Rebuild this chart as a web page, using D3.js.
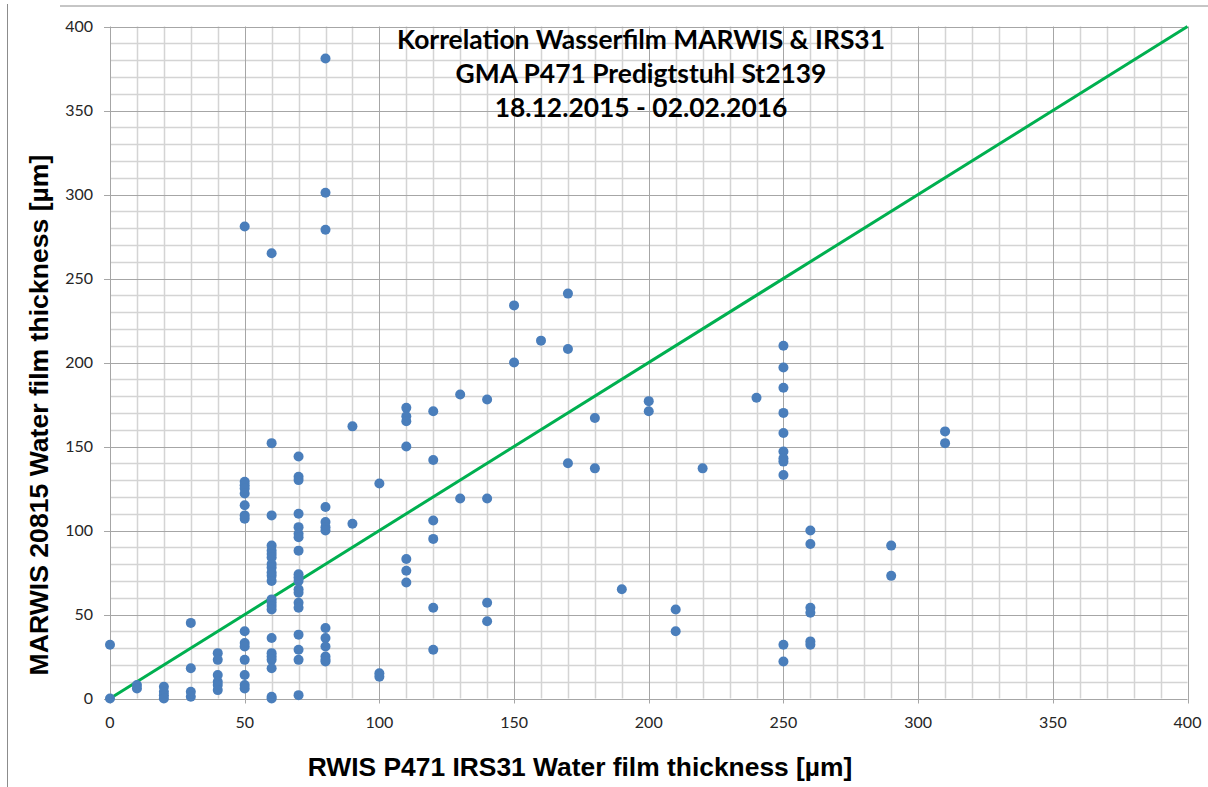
<!DOCTYPE html>
<html><head><meta charset="utf-8">
<script src="https://cdn.jsdelivr.net/npm/d3@7"></script>
<style>body{margin:0;background:#fff}svg{display:block}</style>
</head><body>
<svg id="c" width="1208" height="787"></svg>
<script>
// x values (RWIS IRS31) and the corresponding MARWIS values
const xGroups = [0,10,20,30,40,50,60,70,80,90,100,110,120,130,140,150,160,170,180,190,200,210,220,240,250,260,290,310];
const yGroups = [
  [0,32],
  [8,6],
  [7,4,2,0],
  [45,18,4,1],
  [27,23,14,10,8,5],
  [281,129,127,125,122,115,109,107,40,33,31,23,14,8,6],
  [265,152,109,91,88,86,84,80,78,75,73,70,59,57,55,53,36,27,25,23,18,1,0],
  [144,132,130,110,102,98,96,88,74,72,70,65,63,57,54,38,29,23,2],
  [381,301,279,114,105,102,100,42,36,31,25,23,22],
  [162,104],
  [128,15,13],
  [173,168,165,150,83,76,69],
  [171,142,106,95,54,29],
  [181,119],
  [178,119,57,46],
  [234,200],
  [213],
  [241,208,140],
  [167,137],
  [65],
  [177,171],
  [53,40],
  [137],
  [179],
  [210,197,185,170,158,147,143,141,133,32,22],
  [100,92,54,51,34,32],
  [91,73],
  [159,152]
];
const xTicks = [0,50,100,150,200,250,300,350,400];
const yTicks = [0,50,100,150,200,250,300,350,400];
const diagonal = [[0,0],[400,400]];
const titleLines = ["Korrelation Wasserfilm MARWIS & IRS31","GMA P471 Predigtstuhl St2139","18.12.2015 - 02.02.2016"];
const xTitle = "RWIS P471 IRS31 Water film thickness [µm]";
const yTitle = "MARWIS 20815 Water film thickness [µm]";

const points = [];
xGroups.forEach((x,i)=>yGroups[i].forEach(y=>points.push({x,y})));

const svg = d3.select("#c");
const L = 110, R = 1187.5, T = 26.5, B = 698.5;
const x = d3.scaleLinear().domain([0,400]).range([L,R]);
const y = d3.scaleLinear().domain([0,400]).range([B,T]);

// outer frame fragments
svg.append("line").attr("x1",60).attr("x2",1208).attr("y1",6).attr("y2",6).attr("stroke","#8c8c8c").attr("stroke-width",1);
svg.append("line").attr("x1",7.5).attr("x2",7.5).attr("y1",4).attr("y2",787).attr("stroke","#8c8c8c").attr("stroke-width",1);

const g = svg.append("g");
// minor grid
const minor = d3.range(10,400,10).filter(v=>v%50!==0);
g.selectAll(".mx").data(minor).join("line")
  .attr("x1",d=>Math.round(x(d))+0.5).attr("x2",d=>Math.round(x(d))+0.5).attr("y1",T).attr("y2",B)
  .attr("stroke","#d4d4d4").attr("stroke-width",1.5);
g.selectAll(".my").data(minor).join("line")
  .attr("y1",d=>Math.round(y(d))+0.5).attr("y2",d=>Math.round(y(d))+0.5).attr("x1",L).attr("x2",R)
  .attr("stroke","#d4d4d4").attr("stroke-width",1.5);
// major grid
g.selectAll(".Mx").data(xTicks).join("line")
  .attr("x1",d=>Math.round(x(d))+0.5).attr("x2",d=>Math.round(x(d))+0.5).attr("y1",T).attr("y2",B+5)
  .attr("stroke","#a6a6a6").attr("stroke-width",1);
g.selectAll(".My").data(yTicks).join("line")
  .attr("y1",d=>Math.round(y(d))+0.5).attr("y2",d=>Math.round(y(d))+0.5).attr("x1",L-6).attr("x2",R)
  .attr("stroke","#a6a6a6").attr("stroke-width",1);

// tick labels
const tickFont = "Lato, 'Open Sans', sans-serif";
svg.append("g").selectAll("text").data(yTicks).join("text")
  .attr("x",L-17).attr("y",d=>y(d)).attr("dy","0.35em").attr("text-anchor","end")
  .attr("font-family",tickFont).attr("font-size",16).attr("fill","#262626").text(d=>d);
svg.append("g").selectAll("text").data(xTicks).join("text")
  .attr("x",d=>x(d)).attr("y",B+24).attr("dy","0.35em").attr("text-anchor","middle")
  .attr("font-family",tickFont).attr("font-size",16).attr("fill","#262626").text(d=>d);

// diagonal
svg.append("path").datum(diagonal)
  .attr("d",d3.line().x(d=>x(d[0])).y(d=>y(d[1])))
  .attr("stroke","#00b050").attr("stroke-width",3).attr("fill","none");

// points
svg.append("g").selectAll("circle").data(points).join("circle")
  .attr("cx",d=>x(d.x)).attr("cy",d=>y(d.y)).attr("r",5)
  .attr("fill","#4a7ebb");

// title
svg.append("g").selectAll("text").data(titleLines).join("text")
  .attr("x",641).attr("y",(d,i)=>40+i*34).attr("dy","0.35em").attr("text-anchor","middle")
  .attr("font-family","Lato, sans-serif").attr("font-weight","bold").attr("font-size",26.4)
  .attr("fill","#000").text(d=>d);

// axis titles
svg.append("text").attr("x",580).attr("y",767).attr("dy","0.35em").attr("text-anchor","middle")
  .attr("font-family","'Liberation Sans', Arial, sans-serif").attr("font-weight","bold").attr("font-size",26.4)
  .attr("fill","#000").text(xTitle);
svg.append("text").attr("transform","translate(39,415) rotate(-90)").attr("dy","0.35em").attr("text-anchor","middle")
  .attr("font-family","'Liberation Sans', Arial, sans-serif").attr("font-weight","bold").attr("font-size",26.6)
  .attr("fill","#000").text(yTitle);
</script>
</body></html>
